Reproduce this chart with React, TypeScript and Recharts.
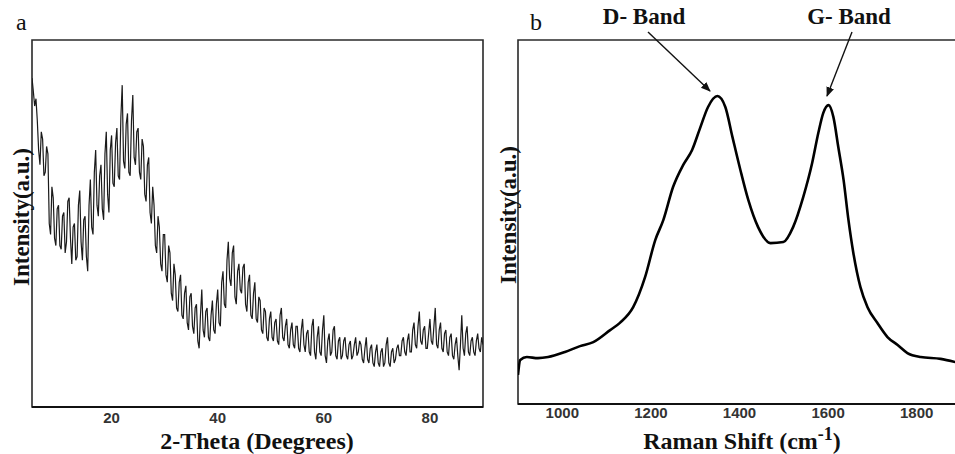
import React from "react";
import { LineChart, Line, XAxis, YAxis, ReferenceArea } from "recharts";

// XRD pattern (panel a), sampled every 0.25 degree from 5 to 90
const XRD_THETA_START = 5;
const XRD_THETA_STEP = 0.25;
const XRD_INTENSITY = [
  89.6, 86, 82, 84, 78, 70, 66, 75, 73, 63, 64, 71, 69, 50, 47, 60, 57, 46, 44, 54,
  55, 44, 43, 52, 53, 42, 45, 56, 57, 46, 39, 49, 50, 40, 41, 55, 59, 45, 40, 51,
  52, 41, 37, 55, 62, 49, 47, 64, 70, 55, 52, 63, 66, 54, 51, 69, 75, 58, 53, 70,
  74, 61, 60, 72, 76, 63, 62, 79, 87.7, 67, 65, 77, 80, 64, 63, 78, 85, 68, 66, 75,
  76, 64, 62, 73, 71, 58, 56, 66, 68, 53, 50, 60, 55, 44, 42, 52, 49, 39, 37, 47,
  47, 36, 34, 44, 42, 31, 29, 39, 36, 27, 26, 34, 36, 25, 24, 31, 33, 23, 21, 30,
  31, 22, 20, 27, 28, 18, 16, 25, 32, 21, 19, 26, 27, 19, 18, 25, 29, 21, 20, 28,
  32, 23, 22, 34, 37, 28, 27, 40, 45, 35, 33, 42, 44, 30, 28, 37, 39, 32, 31, 38,
  39, 28, 26, 34, 36, 25, 24, 31, 34, 24, 23, 30, 29, 21, 20, 27, 26, 19, 18, 24,
  26, 19, 18, 23, 24, 18, 17, 25, 27, 19, 18, 22, 24, 17, 16, 21, 23, 17, 16, 22,
  22, 16, 15, 21, 24, 17, 15, 20, 21, 15, 14, 22, 24, 15, 13, 19, 22, 15, 14, 21,
  25, 14, 12, 18, 20, 14, 15, 21, 22, 14, 13, 18, 19, 13, 14, 18, 19, 14, 13, 17,
  18, 13, 14, 17, 19, 14, 15, 18, 17, 13, 12, 16, 19, 13, 12, 16, 17, 12, 11, 15,
  17, 12, 11, 15, 16, 11, 12, 17, 19, 12, 11, 15, 16, 12, 13, 16, 17, 14, 14, 18,
  19, 15, 14, 18, 20, 15, 15, 21, 23, 17, 16, 22, 26, 18, 17, 21, 22, 16, 16, 20,
  24, 18, 17, 22, 27, 17, 16, 21, 23, 16, 15, 20, 21, 15, 14, 19, 20, 14, 13, 17,
  19, 14, 10, 17, 25, 16, 14, 20, 22, 15, 14, 18, 19, 15, 14, 18, 20, 16, 15, 19, 17,
];
const XRD_TICKS = [20, 40, 60, 80];

// Raman spectrum (panel b)
const RAMAN_SHIFT = [
  900, 905, 920, 945, 968, 1006, 1040, 1070, 1108, 1130,
  1160, 1187, 1210, 1228, 1250, 1273, 1293, 1311, 1329, 1350,
  1368, 1384, 1402, 1420, 1442, 1470, 1499, 1521, 1544, 1564,
  1578, 1589, 1601, 1612, 1623, 1635, 1646, 1657, 1673, 1689,
  1711, 1734, 1757, 1779, 1809, 1854, 1888,
];
const RAMAN_INTENSITY = [
  8.0, 12.1, 12.9, 12.6, 12.9, 14.3, 15.9, 17.0, 20.3, 22.3,
  26.6, 34.9, 45.1, 50.5, 59.6, 65.7, 69.8, 75.8, 81.6, 84.6,
  81.6, 73.4, 64.3, 56.0, 48.6, 44.2, 44.5, 48.6, 56.9, 66.2,
  74.5, 79.9, 82.1, 78.8, 70.6, 61.5, 50.5, 41.5, 32.1, 26.6,
  22.3, 18.4, 16.2, 14.0, 12.9, 12.4, 11.5,
];
const RAMAN_TICKS = [1000, 1200, 1400, 1600, 1800];

const xrdData = XRD_INTENSITY.map((v, i) => ({
  theta: XRD_THETA_START + i * XRD_THETA_STEP,
  intensity: v,
}));
const ramanData = RAMAN_SHIFT.map((s, i) => ({ shift: s, intensity: RAMAN_INTENSITY[i] }));

const serif = "'Liberation Serif', 'DejaVu Serif', serif";
const tickStyle = {
  fill: "#333",
  fontSize: 15,
  fontWeight: 700,
  fontFamily: "'Liberation Sans', Arial, sans-serif",
};
const frameColor = "#2a2a2a";

export default function App() {
  return (
    <div
      style={{
        position: "absolute",
        left: 0,
        top: 0,
        width: 955,
        height: 454,
        overflow: "hidden",
        background: "#fff",
      }}
    >
      <div style={{ position: "absolute", left: 0, top: 0 }}>
        <LineChart
          width={490}
          height={454}
          data={xrdData}
          margin={{ top: 40, right: 7, bottom: 17, left: 32 }}
        >
          <XAxis
            dataKey="theta"
            type="number"
            domain={[5, 90]}
            ticks={XRD_TICKS}
            allowDataOverflow
            tickLine={false}
            tickSize={0}
            tickMargin={5}
            height={30}
            axisLine={{ stroke: "#111", strokeWidth: 2 }}
            tick={tickStyle}
          />
          <YAxis hide type="number" domain={[0, 100]} allowDataOverflow />
          <ReferenceArea
            x1={5}
            x2={90}
            y1={0}
            y2={100}
            fill="none"
            stroke={frameColor}
            strokeWidth={1.6}
            ifOverflow="visible"
          />
          <Line
            type="linear"
            dataKey="intensity"
            stroke="#1a1a1a"
            strokeWidth={1.2}
            dot={false}
            isAnimationActive={false}
          />
        </LineChart>
      </div>

      <div style={{ position: "absolute", left: 490, top: 0 }}>
        <LineChart
          width={472}
          height={454}
          data={ramanData}
          margin={{ top: 40, right: 1, bottom: 20, left: 28 }}
        >
          <XAxis
            dataKey="shift"
            type="number"
            domain={[900, 1900]}
            ticks={RAMAN_TICKS}
            allowDataOverflow
            tickLine={false}
            tickSize={0}
            tickMargin={3}
            height={30}
            axisLine={{ stroke: "#111", strokeWidth: 2 }}
            tick={tickStyle}
          />
          <YAxis hide type="number" domain={[0, 100]} allowDataOverflow />
          <ReferenceArea
            x1={900}
            x2={1900}
            y1={0}
            y2={100}
            fill="none"
            stroke={frameColor}
            strokeWidth={1.6}
            ifOverflow="visible"
          />
          <Line
            type="monotone"
            dataKey="intensity"
            stroke="#000"
            strokeWidth={2.6}
            dot={false}
            isAnimationActive={false}
          />
        </LineChart>
      </div>

      <svg
        width={955}
        height={454}
        style={{ position: "absolute", left: 0, top: 0, pointerEvents: "none" }}
      >
        <defs>
          <marker
            id="arrow"
            viewBox="0 0 10 10"
            refX="9"
            refY="5"
            markerWidth="7"
            markerHeight="7"
            orient="auto-start-reverse"
          >
            <path d="M0,1 L10,5 L0,9 z" fill="#111" />
          </marker>
        </defs>

        <text x={16} y={30} fontFamily={serif} fontSize={24} fill="#111">
          a
        </text>
        <text x={530} y={30} fontFamily={serif} fontSize={24} fill="#111">
          b
        </text>

        <text
          x={21}
          y={217}
          transform="rotate(-90 21 217)"
          textAnchor="middle"
          dominantBaseline="central"
          fontFamily={serif}
          fontWeight={700}
          fontSize={23}
          fill="#111"
        >
          Intensity(a.u.)
        </text>
        <text
          x={508}
          y={215}
          transform="rotate(-90 508 215)"
          textAnchor="middle"
          dominantBaseline="central"
          fontFamily={serif}
          fontWeight={700}
          fontSize={23}
          fill="#111"
        >
          Intensity(a.u.)
        </text>

        <text
          x={257}
          y={449}
          textAnchor="middle"
          fontFamily={serif}
          fontWeight={700}
          fontSize={24}
          fill="#111"
        >
          2-Theta (Deegrees)
        </text>
        <text
          x={742}
          y={449}
          textAnchor="middle"
          fontFamily={serif}
          fontWeight={700}
          fontSize={24}
          fill="#111"
        >
          Raman Shift (cm
          <tspan dy={-9} fontSize={18}>
            -1
          </tspan>
          <tspan dy={9}>)</tspan>
        </text>

        <text
          x={644}
          y={24}
          textAnchor="middle"
          fontFamily={serif}
          fontWeight={700}
          fontSize={23}
          fill="#111"
        >
          D- Band
        </text>
        <text
          x={849}
          y={24}
          textAnchor="middle"
          fontFamily={serif}
          fontWeight={700}
          fontSize={23}
          fill="#111"
        >
          G- Band
        </text>

        <line x1={648} y1={32} x2={710} y2={91} stroke="#111" strokeWidth={1.4} markerEnd="url(#arrow)" />
        <line x1={852} y1={32} x2={827} y2={96} stroke="#111" strokeWidth={1.4} markerEnd="url(#arrow)" />
      </svg>
    </div>
  );
}
